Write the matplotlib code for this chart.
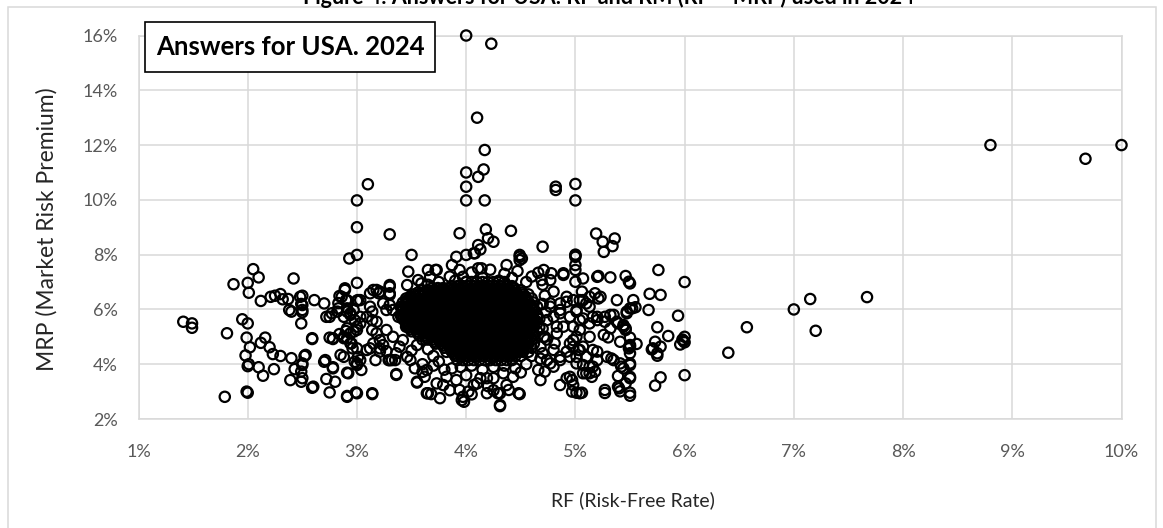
import matplotlib
matplotlib.use("Agg")
import matplotlib.pyplot as plt
from matplotlib.patches import Rectangle
from matplotlib.ticker import FuncFormatter

plt.rcParams['font.family'] = ['Lato', 'DejaVu Sans']

# (RF %, MRP %)
high_pts = [(4.0, 16.0), (4.23, 15.7), (4.1, 13.0), (4.17, 11.82), (4.16, 11.11), (4.11, 10.84),
            (4.0, 11.0), (4.0, 10.48), (4.0, 9.98), (4.17, 9.98), (3.1, 10.57), (3.0, 9.98),
            (4.82, 10.48), (4.82, 10.36), (5.0, 10.58), (5.0, 9.98), (8.8, 12.0), (9.67, 11.5),
            (10.0, 12.0), (3.0, 9.0), (3.3, 8.74), (3.94, 8.78), (4.18, 8.92), (4.41, 8.87),
            (5.19, 8.77)]

far_right_pts = [(7.67, 6.45), (7.15, 6.38), (7.0, 6.0), (7.2, 5.22), (6.57, 5.35), (6.4, 4.42),
                 (6.0, 7.0), (6.0, 3.6), (6.0, 4.8), (5.98, 4.9), (5.96, 4.72), (6.0, 5.0),
                 (5.99, 4.85), (5.94, 5.77), (5.76, 7.44), (5.78, 6.53), (5.68, 6.57), (5.67, 5.98),
                 (5.75, 5.35), (5.85, 5.03), (5.73, 4.82), (5.78, 4.64), (5.7, 4.54), (5.75, 4.31),
                 (5.71, 4.58), (5.75, 4.4), (5.78, 3.52), (5.73, 3.22)]

right_pts = [(5.25, 8.47), (5.36, 8.59), (5.34, 8.31), (5.26, 8.1), (5.0, 8.0), (5.0, 7.97),
             (4.7, 8.29), (4.49, 7.99), (4.51, 7.86), (4.66, 7.34), (4.78, 7.32), (4.69, 7.07),
             (4.8, 6.65), (4.71, 7.44), (4.89, 7.32), (5.0, 7.44), (5.0, 7.01), (5.07, 7.13),
             (5.21, 7.22), (5.32, 7.17), (5.46, 7.22), (5.49, 7.01), (5.5, 6.95), (4.77, 7.07),
             (4.92, 6.46), (4.86, 6.22), (5.1, 6.22), (5.01, 5.92), (4.95, 5.73), (5.07, 5.67),
             (5.16, 5.73), (5.04, 5.25), (5.13, 5.0), (4.98, 4.88), (5.07, 4.64), (5.16, 4.52),
             (5.1, 4.27), (5.03, 4.52), (4.95, 4.27), (5.2, 4.15), (5.13, 3.91), (5.07, 3.67),
             (4.8, 4.52), (4.86, 4.15), (4.74, 4.15), (4.83, 5.13), (4.89, 5.37), (4.8, 5.73),
             (4.86, 5.86), (4.77, 6.1), (4.71, 5.0), (4.68, 4.64), (5.06, 6.65), (5.04, 6.34),
             (5.13, 6.46), (5.2, 7.19), (5.21, 6.4), (5.13, 5.49), (5.2, 5.61), (5.0, 7.92),
             (5.0, 7.62), (4.89, 7.26), (5.18, 6.59), (5.23, 6.46), (5.38, 6.34), (5.53, 6.34),
             (5.5, 6.04), (5.55, 6.08), (5.47, 5.92), (4.98, 6.34), (5.07, 6.34), (5.13, 6.1),
             (5.2, 5.73), (5.27, 5.73), (5.32, 5.8), (5.38, 5.55), (5.44, 5.43), (5.46, 5.31),
             (5.3, 4.98), (5.41, 4.82), (5.5, 4.7), (5.49, 4.58), (5.56, 4.74), (5.5, 4.4),
             (5.2, 4.46), (5.29, 4.27), (5.33, 4.21), (5.41, 4.03), (5.42, 3.91), (5.5, 4.03),
             (5.16, 3.91), (5.18, 3.73), (5.13, 3.67), (5.07, 3.97), (5.01, 4.27), (4.92, 4.46),
             (4.86, 4.27), (4.77, 4.03), (4.72, 3.73), (4.8, 3.91), (4.95, 3.54), (4.98, 3.24),
             (5.5, 3.54), (5.46, 3.3), (5.39, 3.18), (5.5, 2.96), (5.27, 3.06), (5.06, 2.96),
             (5.01, 2.96), (4.86, 3.24), (5.32, 5.31), (5.26, 5.07), (5.04, 5.61), (4.98, 5.37),
             (5.01, 5.0), (4.95, 4.76), (4.83, 5.37), (4.74, 5.61), (4.86, 5.98), (4.77, 6.22),
             (4.92, 6.28), (5.01, 5.98), (4.72, 5.0), (4.81, 4.76), (4.98, 4.64), (5.04, 4.52),
             (5.52, 6.04), (5.47, 5.86), (5.35, 5.8), (5.27, 5.55), (5.39, 5.49), (5.44, 5.37),
             (5.46, 5.25), (5.5, 4.97), (5.5, 4.64), (5.35, 4.15), (5.44, 3.85), (5.5, 3.97),
             (5.39, 3.57), (5.5, 3.49), (5.27, 2.95), (5.41, 3.01), (5.5, 2.85), (5.4, 3.12),
             (4.97, 3.42), (4.68, 3.42), (4.97, 3.0), (5.04, 2.94), (4.92, 3.49), (5.1, 3.67),
             (5.15, 3.54), (5.01, 4.03), (4.66, 3.79), (4.7, 6.9), (4.72, 6.5), (4.7, 6.2),
             (4.73, 5.9), (4.7, 5.3), (4.74, 4.9), (4.7, 4.4), (4.68, 4.2)]

fringe_pts = [(3.91, 7.92), (4.0, 7.99), (4.07, 8.05), (3.87, 7.62), (3.94, 7.44), (3.97, 7.19),
              (4.14, 7.5), (4.37, 7.62), (4.49, 7.92), (4.49, 7.8), (4.2, 8.6), (4.25, 8.47),
              (4.11, 8.35), (4.13, 8.19), (4.08, 8.05), (3.65, 7.44), (3.73, 7.44), (4.11, 7.5),
              (4.0, 7.01), (3.56, 7.07), (3.59, 6.95), (3.67, 7.19), (3.72, 7.44), (3.46, 6.89),
              (3.5, 7.99), (3.47, 7.38), (3.85, 7.2), (3.9, 7.05), (4.05, 7.35), (4.15, 7.15),
              (4.22, 7.45), (4.3, 7.05), (4.35, 7.3), (4.42, 7.15), (4.47, 7.4), (4.55, 7.0),
              (4.6, 7.2), (3.75, 7.0), (3.65, 6.9),
              (3.46, 4.27), (3.49, 4.15), (3.53, 3.85), (3.64, 3.79), (3.62, 3.54), (3.55, 3.36),
              (3.65, 2.94), (3.68, 2.91), (3.76, 2.76), (3.73, 3.3), (3.79, 3.24), (3.82, 3.54),
              (3.87, 3.85), (3.91, 3.42), (3.94, 3.06), (3.96, 2.69), (3.97, 2.81), (4.02, 3.0),
              (4.07, 3.24), (4.13, 3.49), (4.19, 2.94), (4.31, 2.47), (4.29, 2.94), (4.37, 3.24),
              (4.39, 3.06), (4.48, 2.94), (4.43, 3.54), (4.34, 3.67), (4.25, 3.49), (3.55, 3.33),
              (3.6, 3.72), (3.64, 2.94), (3.98, 2.63), (4.19, 3.49), (4.31, 2.94), (4.31, 2.51),
              (4.49, 2.91), (3.36, 3.64), (3.6, 4.0), (3.7, 3.95), (3.75, 4.1), (3.8, 3.8),
              (3.95, 3.9), (4.05, 3.95), (4.15, 3.8), (4.25, 3.9), (4.35, 3.95), (4.45, 3.85),
              (4.55, 4.0), (4.6, 4.3), (4.5, 3.7), (4.0, 3.6), (4.1, 3.3), (4.2, 3.2),
              (3.85, 3.05), (4.05, 2.9), (4.25, 3.05), (3.7, 4.3), (3.65, 4.55), (3.55, 4.7),
              (3.6, 4.9), (3.5, 4.5)]

left_pts = [(1.41, 5.55), (1.49, 5.49), (1.49, 5.33), (1.81, 5.13), (1.79, 2.81), (1.87, 6.92),
            (2.05, 7.47), (2.1, 7.17), (2.0, 6.97), (2.01, 6.61), (2.12, 6.31), (1.95, 5.64),
            (2.0, 5.49), (1.99, 4.97), (2.16, 4.97), (2.12, 4.78), (2.2, 4.62), (2.02, 4.62),
            (1.98, 4.32), (2.23, 4.37), (2.3, 4.3), (2.01, 4.0), (2.0, 3.93), (2.1, 3.89),
            (2.24, 3.82), (2.14, 3.58), (1.99, 3.0), (2.0, 2.96), (2.21, 6.46), (2.25, 6.5),
            (2.3, 6.56), (2.32, 6.37), (2.37, 6.38), (2.42, 7.13), (2.5, 6.5), (2.5, 6.16),
            (2.38, 5.98), (2.4, 5.92), (2.5, 5.98), (2.49, 5.49), (2.59, 4.92), (2.61, 6.34),
            (2.7, 6.22), (2.4, 4.22), (2.43, 3.82), (2.39, 3.42), (2.5, 3.97), (2.49, 3.73),
            (2.49, 3.36), (2.59, 3.14), (2.53, 4.34), (2.7, 4.09), (2.78, 3.85), (2.72, 3.46),
            (2.8, 3.36), (2.75, 2.97), (2.91, 2.81), (2.91, 3.69), (2.85, 4.34), (2.75, 4.97),
            (2.78, 4.92), (2.84, 5.1), (2.9, 5.21), (2.88, 4.95), (2.95, 4.76), (2.96, 4.58),
            (2.72, 5.73), (2.77, 5.86), (2.83, 6.04), (2.82, 5.92), (2.88, 5.73), (2.91, 5.92),
            (2.94, 5.8), (2.84, 6.49), (2.89, 6.77), (2.9, 6.34), (2.93, 7.86), (3.0, 7.99),
            (3.0, 6.97), (3.0, 6.32), (2.99, 2.97), (3.0, 4.03), (2.48, 6.46), (2.49, 6.2),
            (2.5, 5.9), (2.86, 6.46), (2.83, 6.23), (2.75, 5.73), (2.91, 6.04), (2.94, 5.86),
            (2.97, 5.98), (3.01, 6.34), (3.03, 5.73), (2.98, 5.61), (3.0, 5.37), (2.97, 5.19),
            (2.94, 5.13), (2.91, 4.95), (2.78, 4.95), (2.59, 4.95), (2.71, 4.15), (2.78, 3.89),
            (2.6, 3.18), (2.52, 4.3), (2.5, 4.03), (2.5, 3.49), (3.0, 2.94), (3.14, 2.91),
            (3.04, 3.79), (3.0, 3.97), (2.98, 4.09), (3.01, 4.27), (2.88, 5.0), (3.09, 5.73),
            (3.14, 5.92), (3.12, 6.59), (3.18, 6.71), (3.21, 6.65), (3.3, 6.89), (3.3, 6.59),
            (3.3, 6.16), (3.27, 5.98), (3.18, 5.55), (3.14, 5.25), (3.15, 4.76), (3.12, 4.58),
            (3.21, 4.58), (3.24, 4.7), (3.32, 4.15), (3.35, 4.15), (3.36, 3.61), (3.27, 4.48),
            (3.21, 4.88), (3.39, 4.64), (3.42, 4.88), (3.45, 5.37), (3.43, 5.73), (3.49, 6.1),
            (3.46, 6.34), (3.5, 6.46), (2.89, 6.71), (3.15, 6.71), (3.2, 6.59), (3.3, 6.83),
            (3.3, 6.53), (3.03, 6.34), (2.91, 6.34), (3.12, 6.1), (3.24, 6.22), (3.33, 5.98),
            (3.38, 5.73), (3.14, 5.61), (3.03, 5.49), (2.91, 5.31), (3.0, 5.25), (3.18, 5.13),
            (3.27, 5.25), (3.33, 5.0), (2.94, 4.76), (3.0, 4.58), (3.09, 4.52), (3.21, 4.46),
            (3.3, 4.15), (3.36, 4.4), (3.03, 4.15), (2.88, 4.27), (2.92, 3.67), (3.17, 4.15),
            (3.29, 4.15), (2.91, 2.84), (3.14, 2.94)]

# the dense centre, where single circles can no longer be told apart (MRP, RF answers)
core_rows = [
    (7.0, [4.00, 4.05, 4.10, 4.15, 4.20, 4.25, 4.30, 4.35]),
    (6.85, [3.87, 3.92, 3.97, 4.02, 4.07, 4.12, 4.17, 4.22, 4.27, 4.32, 4.37, 4.42]),
    (6.7, [3.60, 3.65, 3.70, 3.75, 3.80, 3.85, 3.90, 3.95, 4.00, 4.05, 4.10, 4.15, 4.20, 4.25,
           4.30, 4.35, 4.40, 4.45, 4.50]),
    (6.55, [3.52, 3.57, 3.62, 3.67, 3.72, 3.77, 3.82, 3.87, 3.92, 3.97, 4.02, 4.07, 4.12, 4.17,
            4.22, 4.27, 4.32, 4.37, 4.42, 4.47, 4.52, 4.57]),
    (6.4, [3.45, 3.50, 3.55, 3.60, 3.65, 3.70, 3.75, 3.80, 3.85, 3.90, 3.95, 4.00, 4.05, 4.10,
           4.15, 4.20, 4.25, 4.30, 4.35, 4.40, 4.45, 4.50, 4.55, 4.60]),
    (6.25, [3.42, 3.47, 3.52, 3.57, 3.62, 3.67, 3.72, 3.77, 3.82, 3.87, 3.92, 3.97, 4.02, 4.07,
            4.12, 4.17, 4.22, 4.27, 4.32, 4.37, 4.42, 4.47, 4.52, 4.57, 4.62]),
    (6.1, [3.40, 3.45, 3.50, 3.55, 3.60, 3.65, 3.70, 3.75, 3.80, 3.85, 3.90, 3.95, 4.00, 4.05,
           4.10, 4.15, 4.20, 4.25, 4.30, 4.35, 4.40, 4.45, 4.50, 4.55, 4.60, 4.65]),
    (5.95, [3.42, 3.47, 3.52, 3.57, 3.62, 3.67, 3.72, 3.77, 3.82, 3.87, 3.92, 3.97, 4.02, 4.07,
            4.12, 4.17, 4.22, 4.27, 4.32, 4.37, 4.42, 4.47, 4.52, 4.57, 4.62]),
    (5.8, [3.40, 3.45, 3.50, 3.55, 3.60, 3.65, 3.70, 3.75, 3.80, 3.85, 3.90, 3.95, 4.00, 4.05,
           4.10, 4.15, 4.20, 4.25, 4.30, 4.35, 4.40, 4.45, 4.50, 4.55, 4.60, 4.65]),
    (5.65, [3.42, 3.47, 3.52, 3.57, 3.62, 3.67, 3.72, 3.77, 3.82, 3.87, 3.92, 3.97, 4.02, 4.07,
            4.12, 4.17, 4.22, 4.27, 4.32, 4.37, 4.42, 4.47, 4.52, 4.57, 4.62, 4.67]),
    (5.5, [3.45, 3.50, 3.55, 3.60, 3.65, 3.70, 3.75, 3.80, 3.85, 3.90, 3.95, 4.00, 4.05, 4.10,
           4.15, 4.20, 4.25, 4.30, 4.35, 4.40, 4.45, 4.50, 4.55, 4.60, 4.65]),
    (5.35, [3.47, 3.52, 3.57, 3.62, 3.67, 3.72, 3.77, 3.82, 3.87, 3.92, 3.97, 4.02, 4.07, 4.12,
            4.17, 4.22, 4.27, 4.32, 4.37, 4.42, 4.47, 4.52, 4.57, 4.62, 4.67]),
    (5.2, [3.50, 3.55, 3.60, 3.65, 3.70, 3.75, 3.80, 3.85, 3.90, 3.95, 4.00, 4.05, 4.10, 4.15,
           4.20, 4.25, 4.30, 4.35, 4.40, 4.45, 4.50, 4.55, 4.60, 4.65]),
    (5.05, [3.57, 3.62, 3.67, 3.72, 3.77, 3.82, 3.87, 3.92, 3.97, 4.02, 4.07, 4.12, 4.17, 4.22,
            4.27, 4.32, 4.37, 4.42, 4.47, 4.52, 4.57, 4.62]),
    (4.9, [3.65, 3.70, 3.75, 3.80, 3.85, 3.90, 3.95, 4.00, 4.05, 4.10, 4.15, 4.20, 4.25, 4.30,
           4.35, 4.40, 4.45, 4.50, 4.55, 4.60]),
    (4.75, [3.72, 3.77, 3.82, 3.87, 3.92, 3.97, 4.02, 4.07, 4.12, 4.17, 4.22, 4.27, 4.32, 4.37,
            4.42, 4.47, 4.52, 4.57, 4.62]),
    (4.6, [3.80, 3.85, 3.90, 3.95, 4.00, 4.05, 4.10, 4.15, 4.20, 4.25, 4.30, 4.35, 4.40, 4.45,
           4.50, 4.55, 4.60]),
    (4.45, [3.82, 3.87, 3.92, 3.97, 4.02, 4.07, 4.12, 4.17, 4.22, 4.27, 4.32, 4.37, 4.42, 4.47,
            4.52, 4.57]),
    (4.3, [3.90, 3.95, 4.00, 4.05, 4.10, 4.15, 4.20, 4.25, 4.30, 4.35, 4.40, 4.45, 4.50]),
    (4.15, [3.92, 3.97, 4.02, 4.07, 4.12, 4.17, 4.22, 4.27, 4.32, 4.37, 4.42]),
]

# more answers packed between those rows, in the solid black heart of the cloud
core_rows_mid = [
    (6.78, [3.69, 3.74, 3.79, 3.84, 3.89, 3.94, 3.99, 4.04, 4.09, 4.14, 4.19, 4.24, 4.29, 4.34,
            4.39, 4.44]),
    (6.62, [3.56, 3.61, 3.66, 3.71, 3.76, 3.81, 3.86, 3.91, 3.96, 4.01, 4.06, 4.11, 4.16, 4.21,
            4.26, 4.31, 4.36, 4.41, 4.46, 4.51]),
    (6.48, [3.49, 3.54, 3.59, 3.64, 3.69, 3.74, 3.79, 3.84, 3.89, 3.94, 3.99, 4.04, 4.09, 4.14,
            4.19, 4.24, 4.29, 4.34, 4.39, 4.44, 4.49, 4.54]),
    (6.32, [3.46, 3.51, 3.56, 3.61, 3.66, 3.71, 3.76, 3.81, 3.86, 3.91, 3.96, 4.01, 4.06, 4.11,
            4.16, 4.21, 4.26, 4.31, 4.36, 4.41, 4.46, 4.51, 4.56]),
    (6.18, [3.44, 3.49, 3.54, 3.59, 3.64, 3.69, 3.74, 3.79, 3.84, 3.89, 3.94, 3.99, 4.04, 4.09,
            4.14, 4.19, 4.24, 4.29, 4.34, 4.39, 4.44, 4.49, 4.54, 4.59]),
    (6.02, [3.41, 3.46, 3.51, 3.56, 3.61, 3.66, 3.71, 3.76, 3.81, 3.86, 3.91, 3.96, 4.01, 4.06,
            4.11, 4.16, 4.21, 4.26, 4.31, 4.36, 4.41, 4.46, 4.51, 4.56, 4.61]),
    (5.88, [3.44, 3.49, 3.54, 3.59, 3.64, 3.69, 3.74, 3.79, 3.84, 3.89, 3.94, 3.99, 4.04, 4.09,
            4.14, 4.19, 4.24, 4.29, 4.34, 4.39, 4.44, 4.49, 4.54, 4.59]),
    (5.72, [3.41, 3.46, 3.51, 3.56, 3.61, 3.66, 3.71, 3.76, 3.81, 3.86, 3.91, 3.96, 4.01, 4.06,
            4.11, 4.16, 4.21, 4.26, 4.31, 4.36, 4.41, 4.46, 4.51, 4.56, 4.61]),
    (5.58, [3.44, 3.49, 3.54, 3.59, 3.64, 3.69, 3.74, 3.79, 3.84, 3.89, 3.94, 3.99, 4.04, 4.09,
            4.14, 4.19, 4.24, 4.29, 4.34, 4.39, 4.44, 4.49, 4.54, 4.59, 4.64]),
    (5.42, [3.46, 3.51, 3.56, 3.61, 3.66, 3.71, 3.76, 3.81, 3.86, 3.91, 3.96, 4.01, 4.06, 4.11,
            4.16, 4.21, 4.26, 4.31, 4.36, 4.41, 4.46, 4.51, 4.56, 4.61]),
    (5.28, [3.49, 3.54, 3.59, 3.64, 3.69, 3.74, 3.79, 3.84, 3.89, 3.94, 3.99, 4.04, 4.09, 4.14,
            4.19, 4.24, 4.29, 4.34, 4.39, 4.44, 4.49, 4.54, 4.59]),
    (5.12, [3.56, 3.61, 3.66, 3.71, 3.76, 3.81, 3.86, 3.91, 3.96, 4.01, 4.06, 4.11, 4.16, 4.21,
            4.26, 4.31, 4.36, 4.41, 4.46, 4.51, 4.56, 4.61]),
    (4.98, [3.64, 3.69, 3.74, 3.79, 3.84, 3.89, 3.94, 3.99, 4.04, 4.09, 4.14, 4.19, 4.24, 4.29,
            4.34, 4.39, 4.44, 4.49, 4.54, 4.59]),
    (4.82, [3.71, 3.76, 3.81, 3.86, 3.91, 3.96, 4.01, 4.06, 4.11, 4.16, 4.21, 4.26, 4.31, 4.36,
            4.41, 4.46, 4.51, 4.56]),
    (4.68, [3.79, 3.84, 3.89, 3.94, 3.99, 4.04, 4.09, 4.14, 4.19, 4.24, 4.29, 4.34, 4.39, 4.44,
            4.49, 4.54]),
    (4.52, [3.86, 3.91, 3.96, 4.01, 4.06, 4.11, 4.16, 4.21, 4.26, 4.31, 4.36, 4.41, 4.46, 4.51]),
    (4.38, [3.89, 3.94, 3.99, 4.04, 4.09, 4.14, 4.19, 4.24, 4.29, 4.34, 4.39, 4.44]),
]

x_ticks = [1, 2, 3, 4, 5, 6, 7, 8, 9, 10]
y_ticks = [2, 4, 6, 8, 10, 12, 14, 16]

rf = []
mrp = []
for group in [left_pts, fringe_pts, right_pts, far_right_pts, high_pts]:
    for a, b in group:
        rf.append(a)
        mrp.append(b)
for level, row in core_rows + core_rows_mid:
    for a in row:
        rf.append(a)
        mrp.append(level)

W, H = 1163, 528
fig = plt.figure(figsize=(W / 100, H / 100), dpi=100)
ax = fig.add_axes([138.5 / W, 1 - 419 / H, 983 / W, 383.5 / H])

ax.scatter(rf, mrp, s=55, facecolors='none', edgecolors='black', linewidths=1.6,
           zorder=3, clip_on=False)

ax.set_xlim(1, 10)
ax.set_ylim(2, 16)
ax.set_xticks(x_ticks)
ax.set_yticks(y_ticks)
pct = FuncFormatter(lambda v, p: f"{v:.0f}%")
ax.xaxis.set_major_formatter(pct)
ax.yaxis.set_major_formatter(pct)
ax.tick_params(length=0, labelsize=13, labelcolor='#595959')
ax.tick_params(axis='x', pad=18)
ax.tick_params(axis='y', pad=15)
ax.grid(True, color='#d9d9d9', linewidth=1.1, zorder=0)
ax.set_axisbelow(True)
for sp in ax.spines.values():
    sp.set_color('#d9d9d9')
    sp.set_linewidth(1.1)

fig.text(47 / W, 1 - 229 / H, 'MRP (Market Risk Premium)', rotation=90,
         ha='center', va='center', fontsize=16.5, color='#262626')
fig.text(633 / W, 1 - 500 / H, 'RF (Risk-Free Rate)', ha='center', va='center',
         fontsize=14, color='#262626')

# outer chart frame and the title cut off at the top
fig.add_artist(Rectangle((7.5 / W, -0.1), 1148 / W, 1.1 - 7.5 / H, transform=fig.transFigure,
                         facecolor='none', edgecolor='#d9d9d9', linewidth=1.1))
fig.text(609 / W, 1 - 4.5 / H, 'Figure 4: Answers for USA: RF and RM (RF = MRP) used in 2024',
         ha='center', va='baseline', fontsize=15.5, fontweight='bold', color='black')

# boxed caption
fig.add_artist(Rectangle((145 / W, 1 - 72 / H), 290 / W, 50 / H, transform=fig.transFigure,
                         facecolor='white', edgecolor='black', linewidth=1.2, zorder=5))
fig.text(290 / W, 1 - 47 / H, 'Answers for USA. 2024', ha='center', va='center',
         fontsize=18.5, fontweight='bold', color='black', zorder=6)

fig.savefig('out.png', dpi=100)
